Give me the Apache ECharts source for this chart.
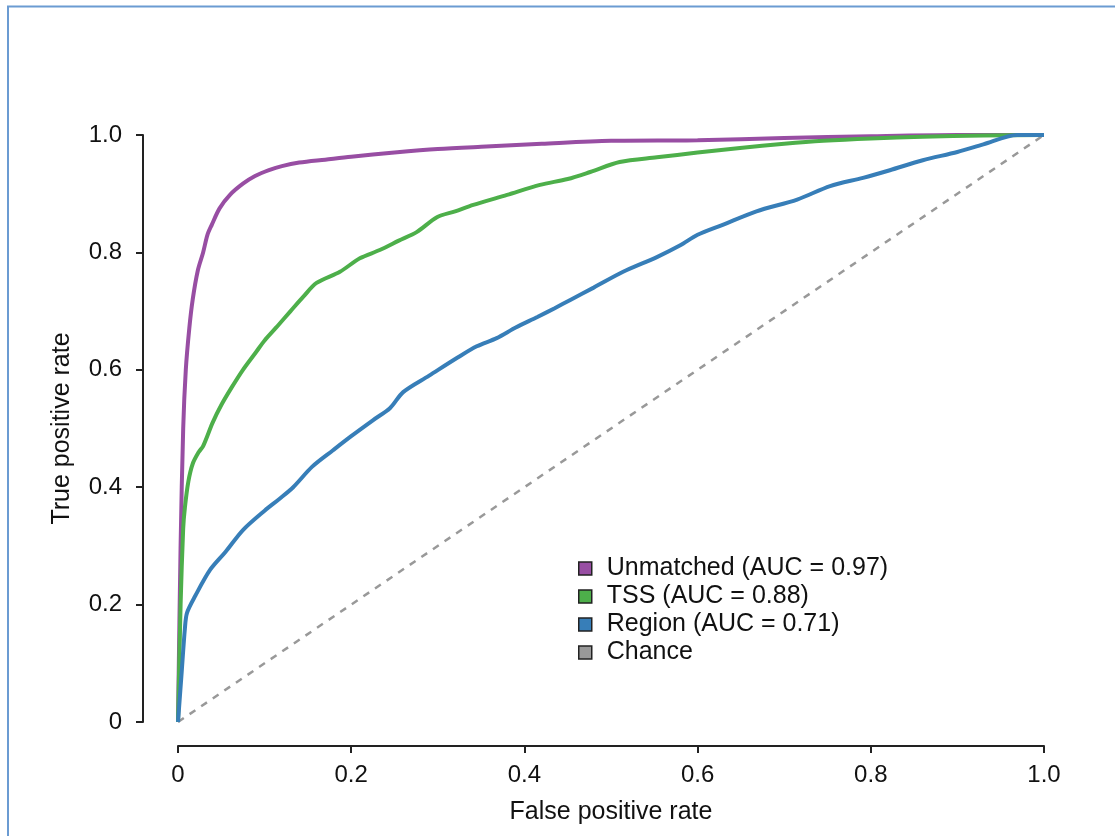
<!DOCTYPE html>
<html>
<head>
<meta charset="utf-8">
<script src="https://cdn.jsdelivr.net/npm/echarts@6/dist/echarts.min.js"></script>
<style>
html,body{margin:0;padding:0;background:#fff;}
#chart{width:1115px;height:836px;}
</style>
</head>
<body>
<div id="chart"></div>
<script>
// ROC curves: [false positive rate, true positive rate]
const unmatched = [[0,0],[0.003,0.3],[0.006,0.5],[0.009,0.6],[0.013,0.67],[0.017,0.72],[0.023,0.77],[0.029,0.80],[0.034,0.83],[0.039,0.847],[0.048,0.875],[0.06,0.898],[0.075,0.917],[0.089,0.93],[0.105,0.94],[0.12,0.947],[0.14,0.953],[0.17,0.958],[0.2,0.963],[0.25,0.97],[0.3,0.976],[0.35,0.98],[0.42,0.985],[0.5,0.99],[0.6,0.991],[0.7,0.995],[0.8,0.998],[0.9,1.0],[1,1]];
const tss = [[0,0],[0.003,0.2],[0.006,0.33],[0.008,0.366],[0.012,0.41],[0.017,0.44],[0.024,0.46],[0.029,0.47],[0.04,0.51],[0.05,0.54],[0.062,0.57],[0.075,0.6],[0.09,0.63],[0.1,0.65],[0.114,0.673],[0.13,0.7],[0.145,0.725],[0.16,0.748],[0.187,0.767],[0.21,0.79],[0.233,0.804],[0.255,0.82],[0.276,0.835],[0.299,0.86],[0.32,0.87],[0.341,0.881],[0.38,0.898],[0.418,0.915],[0.45,0.925],[0.476,0.937],[0.51,0.954],[0.553,0.962],[0.6,0.97],[0.649,0.978],[0.7,0.985],[0.745,0.99],[0.8,0.994],[0.86,0.997],[0.93,0.999],[1,1]];
const region = [[0,0],[0.004,0.08],[0.008,0.16],[0.0104,0.186],[0.02,0.215],[0.037,0.259],[0.055,0.29],[0.075,0.327],[0.1,0.36],[0.117,0.38],[0.133,0.40],[0.155,0.435],[0.179,0.463],[0.2,0.487],[0.225,0.514],[0.245,0.535],[0.26,0.562],[0.29,0.59],[0.322,0.62],[0.345,0.64],[0.368,0.654],[0.39,0.672],[0.415,0.69],[0.435,0.705],[0.453,0.719],[0.48,0.74],[0.514,0.767],[0.553,0.792],[0.58,0.812],[0.6,0.83],[0.629,0.847],[0.668,0.87],[0.715,0.89],[0.753,0.913],[0.791,0.927],[0.822,0.94],[0.86,0.957],[0.9,0.971],[0.93,0.984],[0.969,1.0],[1,1]];
const chance = [[0,0],[1,1]];
const seriesNames = ['Unmatched (AUC = 0.97)','TSS (AUC = 0.88)','Region (AUC = 0.71)','Chance'];
const xTickLabels = ['0','0.2','0.4','0.6','0.8','1.0'];
const yTickLabels = ['0','0.2','0.4','0.6','0.8','1.0'];

const FONT = 'Liberation Sans, Arial, Helvetica, sans-serif';
const chart = echarts.init(document.getElementById('chart'), null, {renderer:'canvas'});
const tickFmt = labels => v => labels[Math.round(v / 0.2)];
const axisCommon = {
  type:'value', min:0, max:1, interval:0.2,
  axisLine:{show:true, onZero:false, lineStyle:{color:'#222', width:2}},
  axisTick:{show:true, length:7, lineStyle:{color:'#222', width:2}},
  splitLine:{show:false},
  nameLocation:'middle',
  nameTextStyle:{fontSize:25, color:'#111', fontFamily:FONT}
};
chart.setOption({
  animation:false,
  backgroundColor:'#fff',
  graphic:[{type:'rect', shape:{x:8, y:6.5, width:1200, height:1000}, style:{fill:null, stroke:'#6b9bd2', lineWidth:2}, silent:true}],
  grid:{left:178, right:71, top:135, bottom:114},
  xAxis:Object.assign({}, axisCommon, {
    offset:24, name:'False positive rate', nameGap:54,
    axisLabel:{fontSize:24, color:'#111', fontFamily:FONT, margin:17, formatter:tickFmt(xTickLabels)}
  }),
  yAxis:Object.assign({}, axisCommon, {
    offset:35, name:'True positive rate', nameGap:68,
    axisLabel:{fontSize:24, color:'#111', fontFamily:FONT, margin:21, formatter:tickFmt(yTickLabels)}
  }),
  legend:{
    orient:'vertical', left:578, top:556, padding:0, itemWidth:13, itemHeight:13, itemGap:3,
    icon:'rect',
    data:seriesNames,
    itemStyle:{borderColor:'#222', borderWidth:1.5},
    textStyle:{fontSize:25, color:'#111', fontFamily:FONT, padding:[0,0,0,10]}
  },
  series:[
    {name:seriesNames[3], type:'line', data:chance, showSymbol:false, color:'#999999',
     lineStyle:{color:'#999999', width:2.5, type:[7,7]}},
    {name:seriesNames[0], type:'line', data:unmatched, showSymbol:false, smooth:0.3, color:'#984ea3',
     lineStyle:{color:'#984ea3', width:4}},
    {name:seriesNames[1], type:'line', data:tss, showSymbol:false, smooth:0.3, color:'#4daf4a',
     lineStyle:{color:'#4daf4a', width:4}},
    {name:seriesNames[2], type:'line', data:region, showSymbol:false, smooth:0.3, color:'#377eb8',
     lineStyle:{color:'#377eb8', width:4}}
  ]
});
</script>
</body>
</html>
